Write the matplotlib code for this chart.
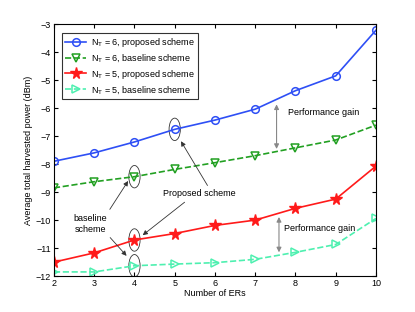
import matplotlib
matplotlib.use('Agg')
import matplotlib.pyplot as plt
from matplotlib.patches import Ellipse

ers = [2, 3, 4, 5, 6, 7, 8, 9, 10]
nt6_proposed = [-7.90, -7.60, -7.21, -6.76, -6.43, -6.04, -5.38, -4.85, -3.22]
nt6_baseline = [-8.85, -8.63, -8.45, -8.19, -7.95, -7.70, -7.42, -7.14, -6.61]
nt5_proposed = [-11.50, -11.17, -10.71, -10.48, -10.19, -10.00, -9.58, -9.25, -8.07]
nt5_baseline = [-11.85, -11.85, -11.63, -11.57, -11.52, -11.40, -11.15, -10.87, -9.94]

plt.rcParams['font.family'] = ['Liberation Sans', 'DejaVu Sans']
plt.rcParams['mathtext.fontset'] = 'custom'
plt.rcParams['mathtext.rm'] = 'Liberation Sans'

fig = plt.figure(figsize=(4.15, 3.12), dpi=100)
ax = fig.add_axes([0.130, 0.115, 0.776, 0.808])

ms = 5.5
ax.plot(ers, nt6_proposed, '-o', color='#2e4ff5', lw=1.2, ms=ms, mfc='none', mew=1.1,
        label=r'N$_\mathregular{T}$ = 6, proposed scheme')
ax.plot(ers, nt6_baseline, '--v', color='#22a022', lw=1.2, ms=ms + 0.5, mfc='none', mew=1.1,
        label=r'N$_\mathregular{T}$ = 6, baseline scheme')
ax.plot(ers, nt5_proposed, '-*', color='#ff1a1a', lw=1.2, ms=ms + 3, mew=1.0,
        label=r'N$_\mathregular{T}$ = 5, proposed scheme')
ax.plot(ers, nt5_baseline, '-->', color='#4ef0b0', lw=1.2, ms=ms + 0.5, mfc='none', mew=1.1,
        label=r'N$_\mathregular{T}$ = 5, baseline scheme')

ax.set_xlim(2, 10)
ax.set_ylim(-12, -3)
ax.set_xticks(ers)
ax.set_yticks(range(-12, -2))
ax.tick_params(direction='in', top=True, right=True, labelsize=6.5, length=3, pad=2)
ax.set_xlabel('Number of ERs', fontsize=6.5, labelpad=1)
ax.set_ylabel('Average total harvested power (dBm)', fontsize=6.5, labelpad=2)

leg = ax.legend(loc='upper left', fontsize=6.5, fancybox=False, edgecolor='black',
                handlelength=2.3, borderpad=0.35, labelspacing=0.35, handletextpad=0.5,
                bbox_to_anchor=(0.012, 0.982))
leg.get_frame().set_linewidth(0.8)

# circled markers
for (ex, ey) in [(5, nt6_proposed[3]), (4, nt6_baseline[2]),
                 (4, nt5_proposed[2]), (4, nt5_baseline[2])]:
    ax.add_patch(Ellipse((ex, ey), 0.28, 0.80, fill=False, ec='#333333', lw=0.6))

arrow = dict(arrowstyle='-|>', color='#333333', lw=0.6, mutation_scale=7)
ax.text(5.6, -9.04, 'Proposed scheme', fontsize=6.5, ha='center', va='center')
ax.annotate('', xy=(5.12, -7.1), xytext=(5.85, -8.85), arrowprops=arrow)
ax.annotate('', xy=(4.15, -10.6), xytext=(5.3, -9.3), arrowprops=arrow)

ax.text(2.9, -10.15, 'baseline\nscheme', fontsize=6.5, ha='center', va='center',
        linespacing=1.3)
ax.annotate('', xy=(3.88, -8.52), xytext=(3.35, -9.7), arrowprops=arrow)
ax.annotate('', xy=(3.85, -11.35), xytext=(3.35, -10.55), arrowprops=arrow)

gain = dict(arrowstyle='<|-|>', color='#888888', lw=0.8, mutation_scale=7)
ax.annotate('', xy=(7.53, -5.77), xytext=(7.53, -7.56), arrowprops=gain)
ax.text(8.69, -6.17, 'Performance gain', fontsize=6.5, ha='center', va='center')
ax.annotate('', xy=(7.59, -9.79), xytext=(7.59, -11.25), arrowprops=gain)
ax.text(8.6, -10.29, 'Performance gain', fontsize=6.5, ha='center', va='center')

fig.savefig('out.png', dpi=100)
